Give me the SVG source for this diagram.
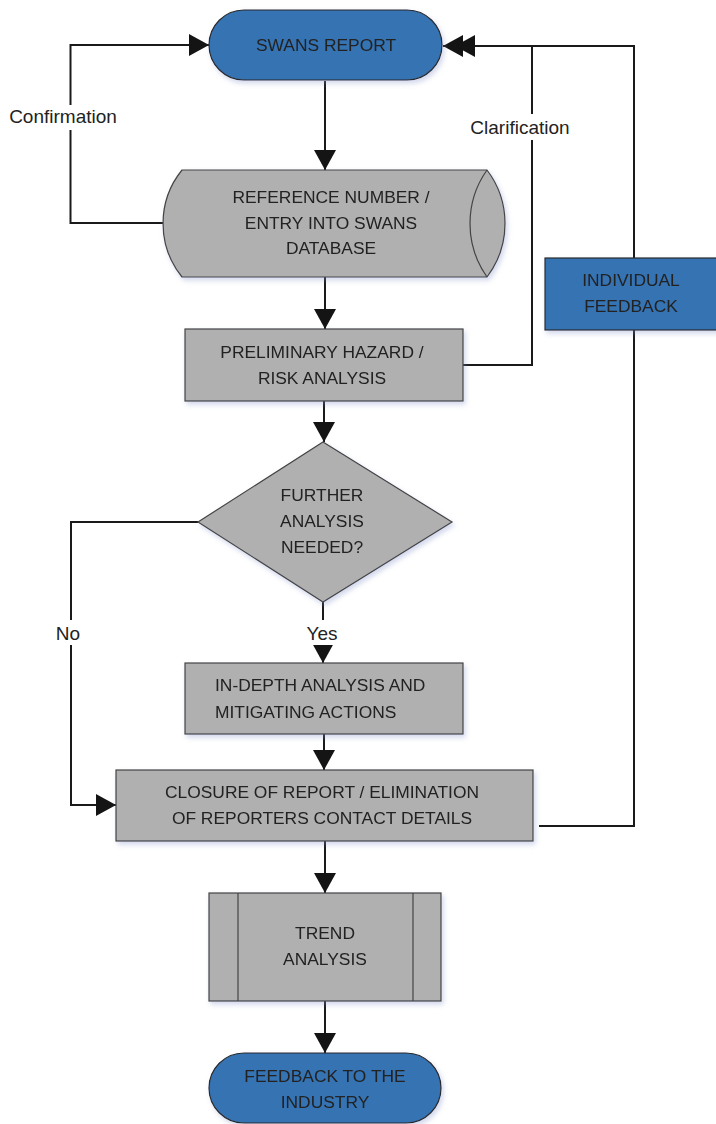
<svg xmlns="http://www.w3.org/2000/svg" width="716" height="1124" viewBox="0 0 716 1124">
  <style>
    .blue { fill: #3573b3; stroke: #2a2a2a; stroke-width: 1.2; }
    .gray { fill: #b0b0b0; stroke: #444; stroke-width: 1.2; }
    .node { filter: url(#shadow); }
    .t { font-family: "Liberation Sans", Arial, sans-serif; font-size: 17.4px; fill: #222; text-anchor: middle; }
    .lbl { font-family: "Liberation Sans", Arial, sans-serif; font-size: 19px; fill: #222; text-anchor: middle; }
    .wire { fill: none; stroke: #1a1a1a; stroke-width: 2; }
    .bg { fill: #ffffff; }
  </style>
  <defs>
    <marker id="arrow" markerUnits="userSpaceOnUse" markerWidth="22" markerHeight="22" refX="20" refY="11" orient="auto">
      <path d="M0,0 L20,11 L0,22 Z" fill="#141414"/>
    </marker>
    <filter id="shadow" x="-10%" y="-10%" width="130%" height="140%">
      <feDropShadow dx="2" dy="3" stdDeviation="2.5" flood-color="#7f8fc8" flood-opacity="0.35"/>
    </filter>
  </defs>

  <!-- connectors -->
  <g id="connectors">
    <path class="wire" d="M163,223 H70.5 V45 H209" marker-end="url(#arrow)"/>
    <path class="wire" d="M325,81 V170" marker-end="url(#arrow)"/>
    <path class="wire" d="M325,277 V329" marker-end="url(#arrow)"/>
    <path class="wire" d="M463,365 H532 V46 H443" marker-end="url(#arrow)"/>
    <path class="wire" d="M324,401 V442" marker-end="url(#arrow)"/>
    <path class="wire" d="M198,522 H71 V805 H116" marker-end="url(#arrow)"/>
    <path class="wire" d="M323,602 V663" marker-end="url(#arrow)"/>
    <path class="wire" d="M324,734 V770" marker-end="url(#arrow)"/>
    <path class="wire" d="M539,826 H634 V330"/>
    <path class="wire" d="M634,258 V46 H455" marker-end="url(#arrow)"/>
    <path class="wire" d="M325,841 V893" marker-end="url(#arrow)"/>
    <path class="wire" d="M325,1001 V1053" marker-end="url(#arrow)"/>

    <!-- connector labels -->
    <rect class="bg" x="5" y="105" width="118" height="25"/>
    <text class="lbl" x="63" y="123">Confirmation</text>
    <rect class="bg" x="467" y="114" width="108" height="26"/>
    <text class="lbl" x="520" y="134">Clarification</text>
    <rect class="bg" x="54" y="620" width="30" height="25"/>
    <text class="lbl" x="68" y="640">No</text>
    <rect class="bg" x="303" y="620" width="38" height="25"/>
    <text class="lbl" x="322" y="640">Yes</text>
  </g>

  <g id="swans-report" class="node">
    <rect class="blue" x="209" y="10" width="233" height="70" rx="35" ry="35"/>
    <text class="t" x="326" y="51">SWANS REPORT</text>
  </g>

  <g id="reference-number" class="node">
    <path class="gray" d="M182,170 H487 A88.5,88.5 0 0 1 487,277 H182 A85,85 0 0 1 182,170 Z"/>
    <path class="gray" d="M487,170 A92.7,92.7 0 0 0 487,277"/>
    <text class="t" x="331" y="203">REFERENCE NUMBER /</text>
    <text class="t" x="331" y="229">ENTRY INTO SWANS</text>
    <text class="t" x="331" y="254">DATABASE</text>
  </g>

  <g id="preliminary-analysis" class="node">
    <rect class="gray" x="185" y="329" width="278" height="72"/>
    <text class="t" x="322" y="358">PRELIMINARY HAZARD /</text>
    <text class="t" x="322" y="384">RISK ANALYSIS</text>
  </g>

  <g id="individual-feedback" class="node">
    <rect class="blue" x="545" y="258" width="180" height="72"/>
    <text class="t" x="631" y="286">INDIVIDUAL</text>
    <text class="t" x="631" y="312">FEEDBACK</text>
  </g>

  <g id="further-analysis" class="node">
    <polygon class="gray" points="323,442 452,522 323,602 198,522"/>
    <text class="t" x="322" y="501">FURTHER</text>
    <text class="t" x="322" y="527">ANALYSIS</text>
    <text class="t" x="322" y="553">NEEDED?</text>
  </g>

  <g id="in-depth-analysis" class="node">
    <rect class="gray" x="185" y="663" width="278" height="71"/>
    <text class="t" x="215" y="691" style="text-anchor:start">IN-DEPTH ANALYSIS AND</text>
    <text class="t" x="215" y="718" style="text-anchor:start">MITIGATING ACTIONS</text>
  </g>

  <g id="closure" class="node">
    <rect class="gray" x="116" y="770" width="417" height="71"/>
    <text class="t" x="322" y="798">CLOSURE OF REPORT / ELIMINATION</text>
    <text class="t" x="322" y="824">OF REPORTERS CONTACT DETAILS</text>
  </g>

  <g id="trend-analysis" class="node">
    <rect class="gray" x="209" y="893" width="232" height="108"/>
    <line x1="238" y1="893" x2="238" y2="1001" stroke="#444" stroke-width="1.2"/>
    <line x1="413" y1="893" x2="413" y2="1001" stroke="#444" stroke-width="1.2"/>
    <text class="t" x="325" y="939">TREND</text>
    <text class="t" x="325" y="965">ANALYSIS</text>
  </g>

  <g id="feedback-industry" class="node">
    <rect class="blue" x="209" y="1053" width="232" height="70" rx="35" ry="35"/>
    <text class="t" x="325" y="1082">FEEDBACK TO THE</text>
    <text class="t" x="325" y="1108">INDUSTRY</text>
  </g>
</svg>
